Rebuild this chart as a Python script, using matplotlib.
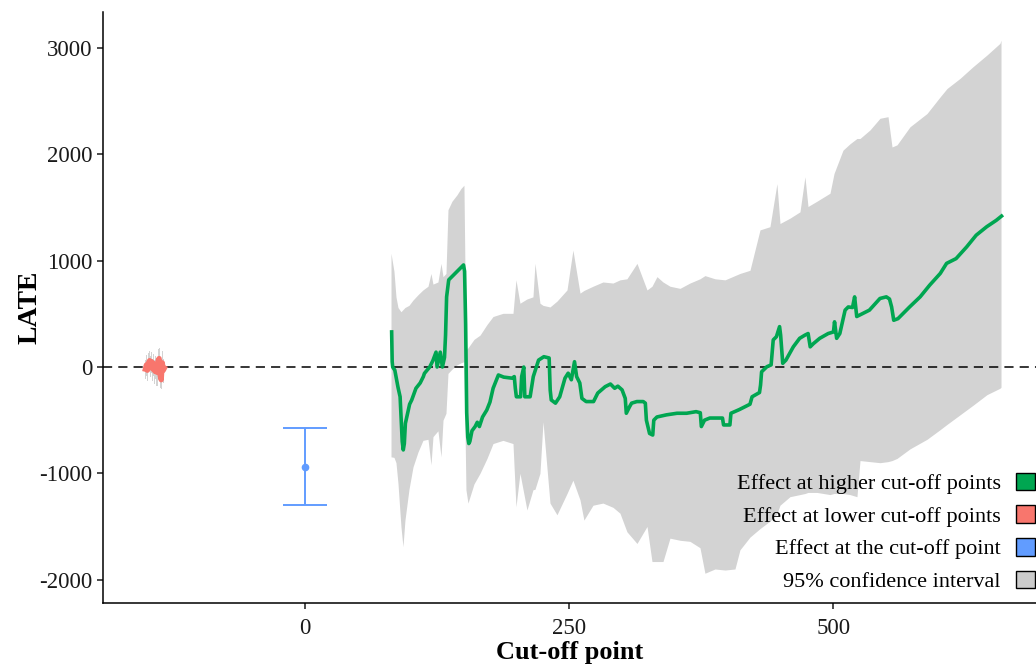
import numpy as np
import matplotlib
matplotlib.use("Agg")
import matplotlib.pyplot as plt
from matplotlib.patches import Patch

plt.rcParams["font.family"] = ["Liberation Serif", "DejaVu Serif"]
plt.rcParams["axes.unicode_minus"] = False

# effect estimated at the cut-off point itself
cut_x = 0
cut_late = -940
cut_lo = -1300
cut_hi = -575

# effect at lower cut-off points (estimate and 95% CI)
low_x = [-151, -150, -149, -148, -147, -146, -145, -144, -143, -142,
         -141, -140, -139, -138, -137, -136, -135, -134, -133]
low_late = [-20, 20, -30, 40, 60, 10, 50, -20, 30, -40,
            0, -50, 60, 80, -80, -120, 40, -30, -10]
low_lo = [-110, -80, -130, -50, -40, -90, -60, -130, -80, -160,
          -110, -180, -60, -40, -200, -210, -90, -150, -100]
low_hi = [70, 110, 60, 130, 150, 100, 140, 80, 120, 70,
          100, 60, 170, 180, 40, 20, 150, 80, 90]

# effect at higher cut-off points
high_x = [82, 82.5, 83, 85, 88, 90, 91, 92, 93, 94, 95, 99, 101, 105, 109, 112, 113,
          118, 121, 124, 125, 128, 130, 132, 133, 134, 136, 142, 148, 150, 151, 152,
          153, 154, 155, 156, 158, 161, 163, 165, 168, 172, 175, 178, 180, 183, 188,
          196, 198, 199, 200, 204, 205, 207, 208, 213, 216, 221, 226, 231, 232, 233,
          237, 241, 246, 249, 252, 255, 257, 260, 262, 266, 273, 277, 284, 289, 293,
          296, 300, 303, 304, 307, 309, 314, 320, 322, 323, 326, 329, 330, 333, 342,
          352, 361, 370, 374, 375, 378, 383, 390, 395, 396, 402, 403, 411, 421, 423,
          430, 431, 432, 437, 441, 443, 446, 449, 450, 452, 455, 462, 468, 473, 476,
          478, 481, 487, 495, 500, 501, 503, 506, 511, 514, 518, 520, 522, 531, 534,
          544, 550, 553, 555, 557, 561, 572, 582, 591, 601, 607, 616, 626, 635, 645,
          654, 659]
high_late = [330, 50, 0, -30, -190, -280, -500, -700, -780, -720, -530, -350, -310,
             -200, -150, -90, -60, 0, 60, 140, 0, 140, 0, 90, 300, 660, 820, 880, 940,
             960, 900, 400, -430, -660, -720, -700, -600, -560, -520, -560, -470, -405,
             -330, -200, -150, -75, -95, -105, -90, -200, -280, -280, -90, 0, -280,
             -280, -90, 65, 97, 85, -216, -310, -340, -280, -105, -58, -120, 50, -90,
             -150, -295, -325, -325, -245, -185, -160, -200, -180, -215, -295, -435,
             -375, -340, -325, -325, -340, -500, -625, -640, -500, -470, -450, -435,
             -435, -420, -430, -560, -500, -480, -480, -480, -545, -545, -435, -400,
             -350, -280, -240, -170, -45, 3, 20, 255, 285, 380, 300, 35, 65, 190, 270,
             300, 315, 190, 220, 270, 315, 330, 425, 270, 315, 535, 565, 560, 660, 475,
             520, 535, 645, 660, 640, 565, 440, 455, 565, 660, 770, 880, 975, 1020,
             1130, 1240, 1320, 1380, 1420]

# 95% confidence band for the higher cut-off points
band_x = [81.4, 84.2, 86.1, 88.0, 90.8, 92.7, 94.6, 98.4, 102.2, 106.9, 111.6, 116.4,
          119.2, 121.1, 125.8, 128.7, 130.6, 133.4, 135.3, 139.1, 143.8, 147.6, 150.4,
          152.3, 154.2, 159.9, 165.6, 172.2, 177.9, 187.3, 196.8, 199.6, 203.4, 210.0,
          215.7, 217.6, 222.3, 225.2, 231.8, 238.4, 247.9, 253.5, 260.2, 263.9, 272.5,
          281.9, 291.4, 298.0, 304.6, 314.1, 323.6, 328.3, 333.0, 338.7, 345.3, 354.8,
          364.2, 373.7, 378.4, 387.9, 397.4, 406.8, 411.5, 421.0, 430.5, 439.9, 446.5,
          449.4, 458.8, 468.3, 473.0, 475.9, 484.4, 496.7, 500.5, 509.0, 515.6, 522.2,
          525.1, 534.5, 544.0, 551.6, 555.4, 560.1, 572.4, 588.5, 600.8, 607.4, 619.7,
          632.0, 645.2, 657.5, 658.5]
band_lo = [-845, -850, -900, -1095, -1500, -1690, -1440, -1150, -940, -800, -690, -680,
           -920, -655, -600, -845, -500, -435, -60, -20, 20, 40, 50,
           -1155, -1280, -1100, -1000, -860, -720, -690, -720, -1315, -1000, -1345,
           -1155, -1150, -1000, -515, -1280, -1390, -1190, -1065, -1250, -1440, -1300,
           -1280, -1320, -1375, -1550, -1660, -1500, -1830, -1830, -1830, -1610, -1630,
           -1640, -1700, -1940, -1900, -1910, -1900, -1720, -1600, -1520, -1450, -1380,
           -1300, -1220, -1200, -1190, -1180, -1180, -1200, -1190, -1190, -1200, -1220,
           -880, -890, -900, -890, -880, -860, -770, -680, -590, -540, -450,
           -360, -260, -200, -190]
band_hi = [1070, 900, 660, 560, 520, 540, 560, 580, 630, 680, 725, 760,
           880, 780, 800, 975, 850, 880, 1480, 1560, 1620, 1680, 1710,
           160, 180, 260, 300, 400, 475, 505, 505, 820, 600, 640,
           660, 975, 600, 580, 565, 620, 725, 1100, 695, 720, 760,
           800, 790, 820, 830, 975, 725, 760, 850, 800, 760, 740,
           790, 830, 860, 830, 820, 860, 880, 910, 1290, 1320, 1725,
           1350, 1400, 1460, 1790, 1510, 1560, 1635, 1820, 2040, 2100, 2150,
           2150, 2230, 2340, 2355, 2070, 2090, 2260, 2385, 2540, 2620, 2715,
           2825, 2935, 3045, 3075]

green = "#00A651"
red = "#F8766D"
blue = "#619CFF"
band_grey = "#D3D3D3"

fig = plt.figure(figsize=(10.36, 6.66), dpi=100)
ax = fig.add_axes([0.0994, 0.0946, 0.9006, 0.8874])

ax.fill_between(band_x, band_lo, band_hi, color=band_grey, linewidth=0, zorder=1)
ax.fill_between(low_x, low_lo, low_hi, step="mid", color=band_grey,
                linewidth=0, zorder=1)
ax.axhline(0, color="black", linestyle=(0, (6, 4)), linewidth=1.1, zorder=2)
ax.plot(high_x, high_late, color=green, linewidth=2.6, zorder=3)
ax.plot(low_x, low_late, color=red, linewidth=3.8, zorder=3)
ax.errorbar(cut_x, cut_late, yerr=[[cut_late - cut_lo], [cut_hi - cut_late]],
            fmt="o", markersize=4.5, color=blue, ecolor=blue, elinewidth=1.4,
            capsize=16, capthick=1.4, zorder=3)

ax.set_xlim(-191.1, 691.6)
ax.set_ylim(-2220, 3340)
ax.set_xticks([0, 250, 500])
ax.set_yticks([-2000, -1000, 0, 1000, 2000, 3000])
for side in ["top", "right"]:
    ax.spines[side].set_visible(False)
for side in ["left", "bottom"]:
    ax.spines[side].set_linewidth(1.1)
ax.tick_params(length=4.5, width=1.1, labelsize=16.5, colors="#1a1a1a")
ax.tick_params(axis="x", pad=6)
ax.tick_params(axis="y", pad=3)
ax.set_xlabel("Cut-off point", fontsize=19, fontweight="bold", labelpad=2)
ax.set_ylabel("LATE", fontsize=20, fontweight="bold", labelpad=-2)

handles = [Patch(facecolor=green, edgecolor="black", linewidth=1),
           Patch(facecolor=red, edgecolor="black", linewidth=1),
           Patch(facecolor=blue, edgecolor="black", linewidth=1),
           Patch(facecolor="#CCCCCC", edgecolor="black", linewidth=1)]
labels = ["Effect at higher cut-off points", "Effect at lower cut-off points",
          "Effect at the cut-off point", "95% confidence interval"]
ax.legend(handles, labels, loc="lower right", bbox_to_anchor=(0.999, 0.111),
          bbox_transform=fig.transFigure, frameon=False, markerfirst=False,
          fontsize=16, handlelength=0.85, handleheight=0.85, handletextpad=0.68,
          labelspacing=0.5, borderpad=0, borderaxespad=0)

fig.savefig("out.png", dpi=100)
